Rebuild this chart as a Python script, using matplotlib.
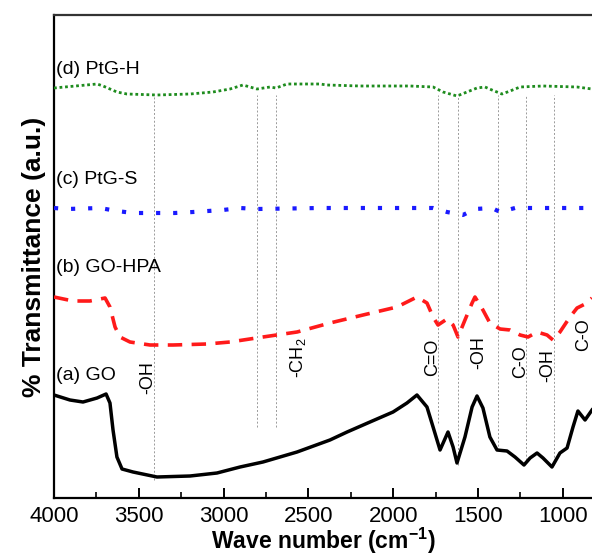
import matplotlib
matplotlib.use('Agg')
import matplotlib.pyplot as plt
from matplotlib.ticker import MultipleLocator

plt.rcParams['font.family'] = ['Liberation Sans', 'DejaVu Sans']
plt.rcParams['mathtext.fontset'] = 'custom'
plt.rcParams['mathtext.rm'] = 'Liberation Sans'
plt.rcParams['mathtext.bf'] = 'Liberation Sans:bold'

# (a) GO
go_wn = [4000, 3906, 3829, 3746, 3693, 3670, 3652, 3629, 3599, 3534,
         3393, 3198, 3039, 2903, 2768, 2567, 2373, 2272, 2137, 2001,
         1919, 1860, 1801, 1765, 1724, 1677, 1647, 1624, 1577, 1535,
         1506, 1471, 1430, 1388, 1329, 1282, 1229, 1193, 1152, 1117,
         1064, 1017, 975, 940, 911, 869, 828]
go_t = [103, 98, 96, 100, 104, 95, 68, 41, 29, 26,
        21, 22, 25, 31, 36, 46, 58, 66, 76, 86,
        95, 103, 91, 71, 48, 66, 51, 35, 61, 91,
        102, 90, 61, 48, 47, 41, 33, 40, 45, 40,
        31, 45, 50, 71, 87, 78, 88]

# (b) GO-HPA
hpa_wn = [4000, 3888, 3788, 3699, 3670, 3640, 3611, 3552, 3434, 3298,
          3098, 2962, 2768, 2567, 2373, 2178, 1978, 1860, 1801, 1765,
          1736, 1683, 1647, 1618, 1577, 1535, 1518, 1471, 1430, 1370,
          1311, 1252, 1205, 1152, 1093, 1058, 1017, 958, 916, 857, 828]
hpa_t = [201, 197, 197, 200, 191, 171, 161, 156, 153, 153,
         154, 156, 161, 166, 175, 183, 191, 201, 195, 181,
         173, 179, 173, 161, 178, 195, 201, 188, 175, 169,
         168, 163, 161, 166, 163, 158, 166, 181, 190, 195, 200]

# (c) PtG-S
pts_wn = [4000, 3923, 3729, 3629, 3534, 3434, 3287, 3180, 3004, 2903,
          2803, 2432, 1765, 1683, 1589, 1518, 1418, 1370, 1282, 828]
pts_t = [290, 289, 290, 287, 285, 285, 285, 286, 288, 290,
         289, 290, 290, 286, 283, 289, 290, 286, 290, 290]

# (d) PtG-H
pth_wn = [4000, 3746, 3711, 3629, 3570, 3393, 3198, 3063, 2962, 2886,
          2803, 2726, 2691, 2626, 2432, 2390, 2196, 1901, 1765, 1706,
          1624, 1565, 1506, 1459, 1418, 1359, 1311, 1252, 1117, 916, 828]
pth_t = [410, 414, 412, 406, 404, 403, 404, 406, 409, 413,
         409, 411, 410, 414, 414, 413, 412, 412, 411, 406,
         402, 406, 410, 411, 408, 404, 407, 411, 412, 411, 409]

# band markers: position, lower end of guide line
band_wn = [3410, 2801, 2691, 1738, 1616, 1384, 1217, 1050]
band_low = [18, 71, 71, 75, 33, 48, 38, 33]
band_top = 403

band_labels = ['-OH', '-CH$_2$', 'C=O', '-OH', 'C-O', '-OH', 'C-O']
label_wn = [3445, 2560, 1765, 1495, 1250, 1090, 880]
label_t = [120, 140, 141, 145, 136, 132, 163]

series_names = ['(a) GO', '(b) GO-HPA', '(c) PtG-S', '(d) PtG-H']
series_name_t = [123, 230, 318, 428]

fig = plt.figure(figsize=(5.92, 5.57), dpi=100)
ax = fig.add_axes([54 / 592, 59 / 557, 538 / 592, 483 / 557])

for w, lo in zip(band_wn, band_low):
    ax.plot([w, w], [lo, band_top], color='#9a9a9a', lw=0.7,
            linestyle=(0, (2, 2)), zorder=1)

ax.plot(go_wn, go_t, color='black', lw=2.5, solid_joinstyle='round', zorder=3)
ax.plot(hpa_wn, hpa_t, color='#ff1a1a', lw=2.6, linestyle=(0, (4, 2.6)), zorder=3)
ax.plot(pts_wn, pts_t, color='#1a1aff', lw=3, linestyle=(0, (1, 3.1)), zorder=3)
ax.plot(pth_wn, pth_t, color='#1e8c1e', lw=2.0, linestyle=(0, (1, 1.0)), zorder=3)

for name, t in zip(series_names, series_name_t):
    ax.text(3990, t, name, fontsize=14, ha='left', va='center')

for lab, w, t in zip(band_labels, label_wn, label_t):
    ax.text(w, t, lab, fontsize=13, rotation=90, ha='center', va='center')

ax.set_xlim(4000, 828)
ax.set_ylim(0, 483)
ax.xaxis.set_major_locator(MultipleLocator(500))
ax.xaxis.set_minor_locator(MultipleLocator(250))
ax.set_yticks([])
ax.tick_params(axis='x', which='major', direction='in', length=7, width=1.4,
               labelsize=16, pad=6)
ax.tick_params(axis='x', which='minor', direction='in', length=4, width=1.2)
ax.spines['right'].set_visible(False)
for s in ['left', 'bottom', 'top']:
    ax.spines[s].set_linewidth(1.6)
ax.spines['top'].set_color('#333333')

ax.set_xlabel('Wave number (cm$^{\\mathbf{-1}}$)', fontsize=16.5, fontweight='bold', labelpad=-1)
ax.set_ylabel('% Transmittance (a.u.)', fontsize=19, fontweight='bold', labelpad=6)

fig.savefig('out.png', dpi=100)
